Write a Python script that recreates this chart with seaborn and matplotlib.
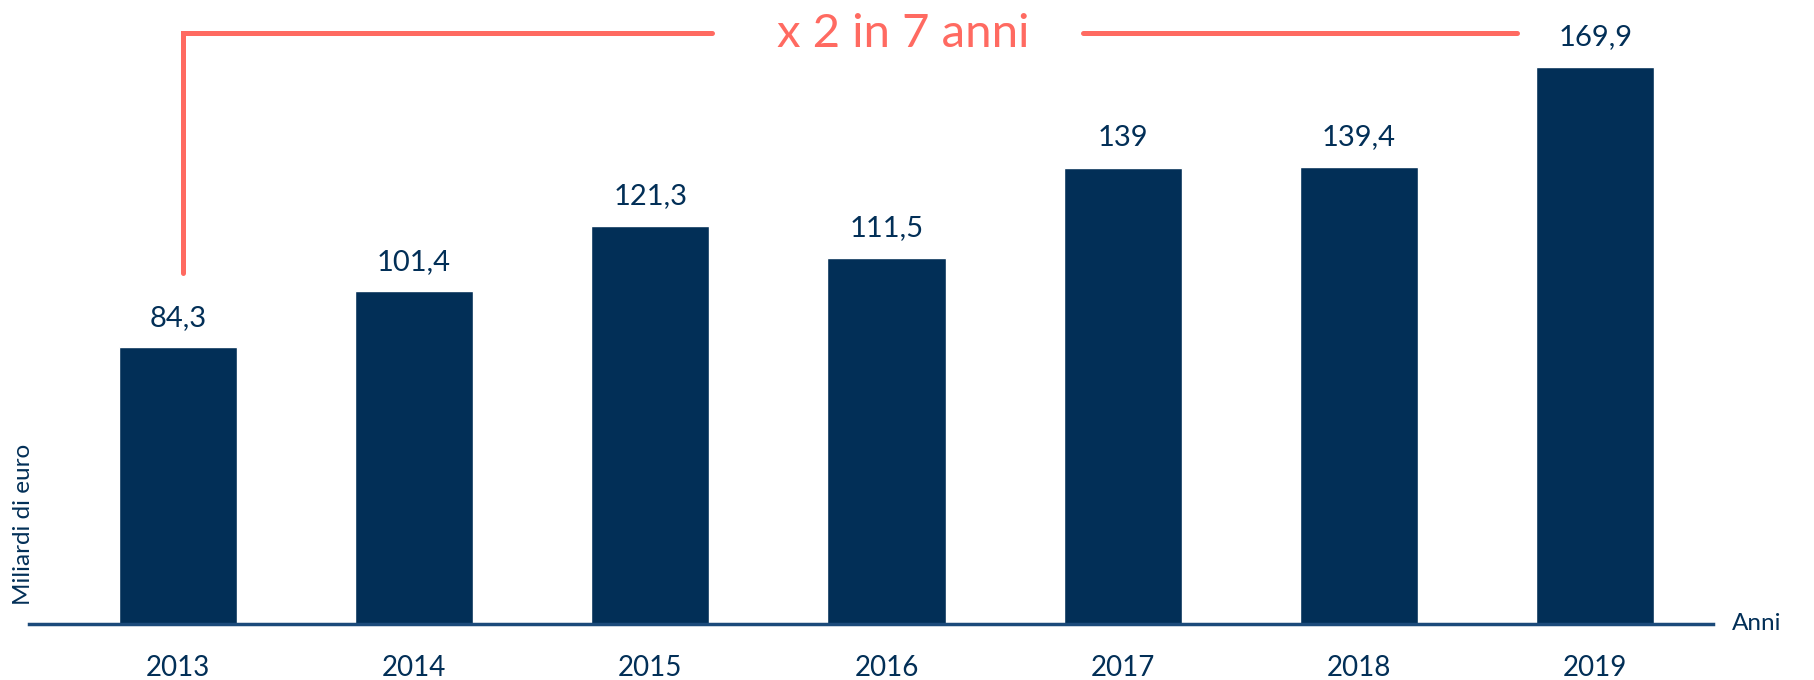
import seaborn as sns
import matplotlib.pyplot as plt

# data
anni = ['2013', '2014', '2015', '2016', '2017', '2018', '2019']
miliardi = [84.3, 101.4, 121.3, 111.5, 139.0, 139.4, 169.9]
etichette = [f"{v:g}".replace('.', ',') for v in miliardi]

navy = '#022f57'
linea = '#1b4a7a'
rosso = '#ff6a61'

sns.set_style('white')
plt.rcParams['font.family'] = ['Lato', 'DejaVu Sans']

fig = plt.figure(figsize=(18.15, 6.8), dpi=100)
ax = fig.add_axes([0.016, 0.0824, 0.928, 0.9176])

sns.barplot(x=anni, y=miliardi, color=navy, saturation=1, width=0.5, ax=ax)

ax.bar_label(ax.containers[0], labels=etichette, padding=12, fontsize=21, color=navy)

ax.set_xlim(-0.63, 6.5)
ax.set_ylim(0, 190.2)
ax.set_yticks([])
for s in ['top', 'right', 'left']:
    ax.spines[s].set_visible(False)
ax.spines['bottom'].set_color(linea)
ax.spines['bottom'].set_linewidth(2.5)
ax.tick_params(axis='x', length=0, pad=22, labelsize=20, labelcolor=navy)
ax.set_xlabel('')
ax.set_ylabel('')

# axis titles
fig.text(0.013, 0.11, 'Miliardi di euro', rotation=90, ha='center', va='bottom',
         fontsize=17.5, color=navy)
fig.text(0.954, 0.0824, 'Anni', ha='left', va='center', fontsize=17.5, color=navy)

# bracket "x 2 in 7 anni"
ax.plot([0.02, 0.02, 2.26], [107, 180, 180], color=rosso, lw=3.6, solid_joinstyle='miter',
        clip_on=False)
ax.plot([3.83, 5.67], [180, 180], color=rosso, lw=3.6, clip_on=False)
ax.text(3.07, 176, 'x 2 in 7 anni', ha='center', va='baseline', fontsize=34, color=rosso)

plt.savefig('out.png', dpi=100)
